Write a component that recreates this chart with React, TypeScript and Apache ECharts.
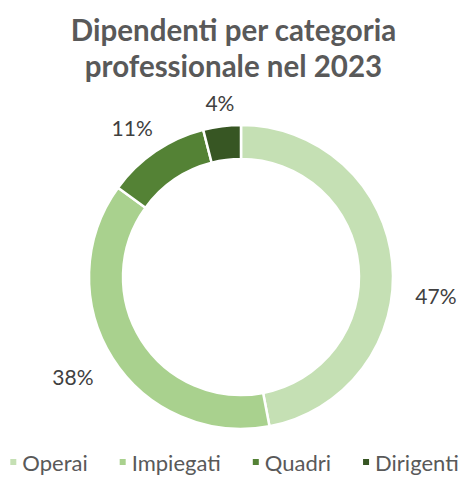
import React, { useEffect, useRef } from "react";
import * as echarts from "echarts";

const categories = ["Operai", "Impiegati", "Quadri", "Dirigenti"];
const values = [47, 38, 11, 4];
const colors = ["#C5E0B4", "#A9D18E", "#548235", "#375623"];
const titleText = "Dipendenti per categoria\nprofessionale nel 2023";
// label nudges (style only) to mimic Excel best-fit placement
const labelOffsets = [
  [6, 34],
  [-4, 12],
  [9, -14],
  [19, -12],
];

export default function App() {
  const ref = useRef<HTMLDivElement>(null);
  useEffect(() => {
    document.body.style.margin = "0";
    const chart = echarts.init(ref.current!, undefined, { renderer: "svg" });
    chart.setOption({
      animation: false,
      title: {
        text: titleText,
        left: "center",
        top: 6,
        textStyle: {
          fontFamily: "Lato",
          fontWeight: "bold",
          fontSize: 29.5,
          lineHeight: 36,
          color: "#595959",
        },
      },
      legend: {
        bottom: 0,
        left: "center",
        icon: "rect",
        itemWidth: 8,
        itemHeight: 8,
        itemGap: 30,
        textStyle: { fontFamily: "Lato", fontSize: 22, color: "#595959" },
        data: categories,
      },
      series: [
        {
          type: "pie",
          center: [241, 277],
          radius: [118, 152],
          startAngle: 90,
          clockwise: true,
          itemStyle: { borderColor: "#fff", borderWidth: 2.5 },
          label: {
            show: true,
            position: "outside",
            formatter: "{c}%",
            fontFamily: "Lato",
            fontSize: 21,
            color: "#404040",
          },
          labelLine: { show: false, length: 12, length2: 0 },
          data: categories.map((c, i) => ({
            name: c,
            value: values[i],
            itemStyle: { color: colors[i] },
            label: { offset: labelOffsets[i] },
          })),
        },
      ],
    });
    return () => chart.dispose();
  }, []);
  return <div ref={ref} style={{ width: 467, height: 478 }} />;
}
